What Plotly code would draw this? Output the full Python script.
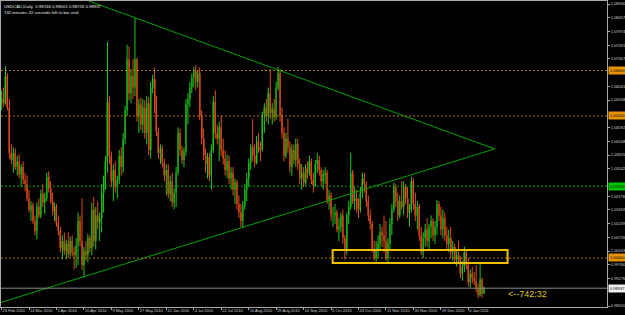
import plotly.graph_objects as go

# ---------------- data ----------------
opens = [
1.0545,1.0560,1.0545,1.0640,1.0530,1.0370,1.0345,1.0370,1.0320,1.0340,
1.0295,1.0320,1.0275,1.0260,1.0210,1.0170,1.0185,1.0130,1.0095,1.0180,
1.0150,1.0225,1.0195,1.0210,1.0285,1.0245,1.0200,1.0165,1.0180,1.0125,
1.0095,1.0035,1.0060,1.0025,1.0050,1.0015,1.0060,1.0020,1.0010,1.0045,
1.0130,1.0060,0.9975,1.0025,1.0010,1.0070,1.0035,1.0170,1.0060,1.0150,
1.0125,1.0140,1.0230,1.0270,1.0340,1.0550,1.0360,1.0270,1.0310,1.0250,
1.0275,1.0360,1.0320,1.0420,1.0520,1.0700,1.0580,1.0640,1.0600,1.0700,
1.0500,1.0540,1.0470,1.0530,1.0440,1.0545,1.0380,1.0600,1.0630,1.0530,
1.0445,1.0370,1.0385,1.0335,1.0290,1.0310,1.0225,1.0270,1.0195,1.0230,
1.0300,1.0440,1.0380,1.0345,1.0375,1.0540,1.0560,1.0600,1.0635,1.0660,
1.0620,1.0650,1.0500,1.0420,1.0360,1.0330,1.0355,1.0290,1.0380,1.0550,
1.0440,1.0420,1.0460,1.0380,1.0350,1.0310,1.0340,1.0280,1.0300,1.0240,
1.0265,1.0190,1.0160,1.0130,1.0185,1.0240,1.0280,1.0335,1.0390,1.0360,
1.0335,1.0410,1.0390,1.0380,1.0505,1.0530,1.0500,1.0580,1.0510,1.0525,
1.0495,1.0600,1.0650,1.0500,1.0440,1.0360,1.0420,1.0390,1.0320,1.0380,
1.0345,1.0400,1.0330,1.0280,1.0300,1.0265,1.0315,1.0300,1.0340,1.0275,
1.0255,1.0330,1.0345,1.0310,1.0270,1.0295,1.0300,1.0200,1.0220,1.0150,
1.0150,1.0160,1.0100,1.0110,1.0150,1.0070,1.0030,1.0150,1.0180,1.0300,
1.0200,1.0210,1.0180,1.0170,1.0230,1.0280,1.0260,1.0200,1.0150,1.0120,
1.0030,1.0000,1.0030,1.0050,1.0090,1.0080,1.0060,1.0000,1.0050,1.0120,
1.0170,1.0250,1.0200,1.0150,1.0200,1.0180,1.0250,1.0210,1.0160,1.0170,
1.0270,1.0190,1.0150,1.0180,1.0080,1.0020,1.0070,1.0100,1.0060,1.0110,
1.0130,1.0080,1.0110,1.0190,1.0150,1.0100,1.0140,1.0080,1.0050,1.0070,
1.0020,1.0040,0.9995,1.0010,0.9990,0.9945,0.9970,1.0020,0.9975,0.9915,
0.9945,0.9930,0.9920,0.9890,0.9870,0.9925,0.98746]

highs = [
1.0590,1.0600,1.0675,1.0650,1.0560,1.0400,1.0390,1.0385,1.0360,1.0365,
1.0330,1.0340,1.0300,1.0290,1.0240,1.0200,1.0195,1.0150,1.0195,1.0210,
1.0240,1.0260,1.0230,1.0300,1.0305,1.0270,1.0230,1.0195,1.0190,1.0150,
1.0110,1.0080,1.0090,1.0065,1.0090,1.0075,1.0080,1.0040,1.0070,1.0160,
1.0150,1.0210,1.0040,1.0060,1.0085,1.0080,1.0195,1.0215,1.0180,1.0200,
1.0160,1.0260,1.0290,1.0360,1.0760,1.0570,1.0375,1.0330,1.0340,1.0290,
1.0380,1.0390,1.0440,1.0535,1.0750,1.0745,1.0665,1.0700,1.0845,1.0705,
1.0560,1.0565,1.0560,1.0555,1.0570,1.0567,1.0620,1.0645,1.0670,1.0570,
1.0460,1.0400,1.0395,1.0350,1.0330,1.0330,1.0290,1.0300,1.0245,1.0320,
1.0460,1.0455,1.0395,1.0390,1.0560,1.0580,1.0620,1.0650,1.0672,1.0678,
1.0660,1.0672,1.0520,1.0455,1.0385,1.0370,1.0370,1.0400,1.0570,1.0590,
1.0470,1.0480,1.0500,1.0420,1.0380,1.0365,1.0360,1.0320,1.0320,1.0280,
1.0275,1.0220,1.0190,1.0200,1.0260,1.0300,1.0350,1.0400,1.0490,1.0400,
1.0430,1.0440,1.0410,1.0515,1.0545,1.0560,1.0600,1.0665,1.0545,1.0560,
1.0620,1.0672,1.0665,1.0530,1.0460,1.0440,1.0490,1.0410,1.0400,1.0400,
1.0420,1.0420,1.0350,1.0330,1.0320,1.0330,1.0340,1.0360,1.0350,1.0300,
1.0345,1.0370,1.0360,1.0320,1.0310,1.0320,1.0310,1.0240,1.0230,1.0180,
1.0190,1.0170,1.0140,1.0160,1.0170,1.0080,1.0160,1.0200,1.0370,1.0310,
1.0250,1.0240,1.0210,1.0250,1.0300,1.0300,1.0270,1.0220,1.0170,1.0130,
1.0060,1.0060,1.0080,1.0120,1.0110,1.0150,1.0130,1.0070,1.0140,1.0190,
1.0265,1.0260,1.0230,1.0220,1.0270,1.0270,1.0260,1.0250,1.0190,1.0285,
1.0280,1.0230,1.0200,1.0190,1.0110,1.0090,1.0120,1.0140,1.0120,1.0150,
1.0140,1.0130,1.0205,1.0200,1.0180,1.0170,1.0160,1.0110,1.0100,1.0110,
1.0060,1.0050,1.0030,1.0060,1.0005,0.9990,1.0040,1.0030,1.0000,0.9960,
0.9970,0.9950,0.9975,0.9910,0.9980,0.9930,0.99001]

lows = [
1.0520,1.0530,1.0540,1.0520,1.0350,1.0330,1.0300,1.0310,1.0290,1.0280,
1.0250,1.0260,1.0235,1.0200,1.0160,1.0130,1.0120,1.0080,1.0065,1.0140,
1.0140,1.0180,1.0155,1.0200,1.0230,1.0190,1.0150,1.0130,1.0110,1.0080,
1.0020,0.9995,1.0010,0.9995,1.0000,1.0005,1.0005,0.9960,0.9965,0.9975,
1.0040,0.9958,0.9932,0.9990,0.9985,1.0020,1.0010,1.0040,1.0030,1.0100,
1.0060,1.0090,1.0160,1.0240,1.0300,1.0330,1.0250,1.0200,1.0230,1.0210,
1.0260,1.0290,1.0300,1.0400,1.0500,1.0555,1.0545,1.0560,1.0570,1.0480,
1.0440,1.0450,1.0440,1.0420,1.0400,1.0360,1.0350,1.0580,1.0510,1.0430,
1.0350,1.0330,1.0320,1.0270,1.0220,1.0210,1.0200,1.0180,1.0172,1.0180,
1.0290,1.0360,1.0330,1.0320,1.0360,1.0470,1.0530,1.0580,1.0600,1.0590,
1.0600,1.0486,1.0400,1.0345,1.0300,1.0280,1.0270,1.0240,1.0370,1.0420,
1.0400,1.0340,1.0360,1.0330,1.0290,1.0280,1.0260,1.0240,1.0220,1.0190,
1.0170,1.0140,1.0110,1.0108,1.0170,1.0200,1.0250,1.0310,1.0340,1.0320,
1.0330,1.0370,1.0340,1.0375,1.0440,1.0480,1.0470,1.0490,1.0470,1.0480,
1.0485,1.0590,1.0480,1.0420,1.0340,1.0350,1.0370,1.0300,1.0290,1.0330,
1.0320,1.0310,1.0260,1.0240,1.0250,1.0255,1.0280,1.0290,1.0260,1.0230,
1.0250,1.0300,1.0290,1.0250,1.0240,1.0260,1.0190,1.0170,1.0130,1.0110,
1.0120,1.0090,1.0060,1.0090,1.0050,0.9995,1.0010,1.0120,1.0170,1.0190,
1.0170,1.0160,1.0140,1.0160,1.0210,1.0230,1.0180,1.0130,1.0100,1.0020,
0.9990,0.9987,1.0000,1.0030,1.0040,1.0020,0.9990,0.9985,1.0030,1.0080,
1.0160,1.0180,1.0130,1.0140,1.0170,1.0150,1.0190,1.0140,1.0110,1.0160,
1.0170,1.0130,1.0100,1.0060,1.0010,1.0000,1.0040,1.0040,1.0030,1.0070,
1.0060,1.0050,1.0080,1.0130,1.0080,1.0070,1.0060,1.0030,1.0020,1.0000,
0.9990,0.9980,0.9970,0.9985,0.9930,0.9920,0.9950,0.9960,0.9900,0.9895,
0.9910,0.9905,0.9880,0.9858,0.9865,0.9860,0.98726]

closes = [
1.0560,1.0545,1.0640,1.0530,1.0370,1.0345,1.0370,1.0320,1.0340,1.0295,
1.0320,1.0275,1.0260,1.0210,1.0170,1.0185,1.0130,1.0095,1.0180,1.0150,
1.0225,1.0195,1.0210,1.0285,1.0245,1.0200,1.0165,1.0180,1.0125,1.0095,
1.0035,1.0060,1.0025,1.0050,1.0015,1.0060,1.0020,1.0010,1.0045,1.0130,
1.0060,0.9975,1.0025,1.0010,1.0070,1.0035,1.0170,1.0060,1.0150,1.0125,
1.0140,1.0230,1.0270,1.0340,1.0550,1.0360,1.0270,1.0310,1.0250,1.0275,
1.0360,1.0320,1.0420,1.0520,1.0700,1.0580,1.0640,1.0600,1.0700,1.0500,
1.0540,1.0470,1.0530,1.0440,1.0545,1.0380,1.0600,1.0630,1.0530,1.0445,
1.0370,1.0385,1.0335,1.0290,1.0310,1.0225,1.0270,1.0195,1.0230,1.0300,
1.0440,1.0380,1.0345,1.0375,1.0540,1.0560,1.0600,1.0635,1.0660,1.0620,
1.0650,1.0500,1.0420,1.0360,1.0330,1.0355,1.0290,1.0380,1.0550,1.0440,
1.0420,1.0460,1.0380,1.0350,1.0310,1.0340,1.0280,1.0300,1.0240,1.0265,
1.0190,1.0160,1.0130,1.0185,1.0240,1.0280,1.0335,1.0390,1.0360,1.0335,
1.0410,1.0390,1.0380,1.0505,1.0530,1.0500,1.0580,1.0510,1.0525,1.0495,
1.0600,1.0650,1.0500,1.0440,1.0360,1.0420,1.0390,1.0320,1.0380,1.0345,
1.0400,1.0330,1.0280,1.0300,1.0265,1.0315,1.0300,1.0340,1.0275,1.0255,
1.0330,1.0345,1.0310,1.0270,1.0295,1.0300,1.0200,1.0220,1.0150,1.0150,
1.0160,1.0100,1.0110,1.0150,1.0070,1.0030,1.0150,1.0180,1.0300,1.0200,
1.0210,1.0180,1.0170,1.0230,1.0280,1.0260,1.0200,1.0150,1.0120,1.0030,
1.0000,1.0030,1.0050,1.0090,1.0080,1.0060,1.0000,1.0050,1.0120,1.0170,
1.0250,1.0200,1.0150,1.0200,1.0180,1.0250,1.0210,1.0160,1.0170,1.0270,
1.0190,1.0150,1.0180,1.0080,1.0020,1.0070,1.0100,1.0060,1.0110,1.0130,
1.0080,1.0110,1.0190,1.0150,1.0100,1.0140,1.0080,1.0050,1.0070,1.0020,
1.0040,0.9995,1.0010,0.9990,0.9945,0.9970,1.0020,0.9975,0.9915,0.9945,
0.9930,0.9920,0.9890,0.9870,0.9925,0.98746,0.98937]

date_labels = ["23 Feb 2010", "14 Mar 2010", "1 Apr 2010", "20 Apr 2010",
               "9 May 2010", "27 May 2010", "15 Jun 2010", "4 Jul 2010",
               "22 Jul 2010", "10 Aug 2010", "29 Aug 2010", "16 Sep 2010",
               "5 Oct 2010", "24 Oct 2010", "11 Nov 2010", "30 Nov 2010",
               "19 Dec 2010", "6 Jan 2011"]
bars_per_label = 14

price_ticks = [0.98310, 0.98793, 0.99276, 0.99760, 1.00243, 1.00726, 1.01209,
               1.01692, 1.02176, 1.02659, 1.03142, 1.03625, 1.04108, 1.04592,
               1.05075, 1.05558, 1.06041, 1.06524, 1.07007, 1.07491, 1.07974,
               1.08457, 1.08940]

upper_trend_bars = [44.4, 251.4]
upper_trend_prices = [1.0905, 1.0384]
lower_trend_bars = [-0.5, 251.4]
lower_trend_prices = [0.9843, 1.0384]

orange_levels = [1.0660, 1.0500, 1.0000]
green_levels = [1.0253]
bid_price = 0.98937

zone_bars = [168.8, 258.0]
zone_prices = [0.99824, 1.00282]

symbol = "USDCAD,Daily"
timer_minutes, timer_seconds = 742, 32
timer_bar = 257

# ---------------- styles ----------------
BG = "black"
UP_WICK, UP_BODY = "#1ec81e", "#0a640a"
DN_WICK, DN_BODY = "#e04c1a", "#8a2c0e"
TREND = "#00a400"
ORANGE = "#b87a00"
GREEN_LVL = "#00a800"
FRAME = "#a8a8a8"
TXT = "#d0d0d0"
FONT = "Liberation Sans"
Y_RANGE = [0.98275, 1.09046]

n = len(closes)
idx = list(range(n))

fig = go.Figure()

for up in (True, False):
    sel = [i for i in idx if (closes[i] >= opens[i]) == up]
    wx, wy = [], []
    for i in sel:
        wx += [i, i, None]
        wy += [lows[i], highs[i], None]
    fig.add_trace(go.Scatter(x=wx, y=wy, mode="lines",
                             line=dict(color=UP_WICK if up else DN_WICK, width=1),
                             hoverinfo="skip"))
    fig.add_trace(go.Bar(x=sel,
                         base=[min(opens[i], closes[i]) for i in sel],
                         y=[abs(closes[i] - opens[i]) for i in sel],
                         width=0.55,
                         marker=dict(color=UP_BODY if up else DN_BODY, line=dict(width=0)),
                         hoverinfo="skip"))

# trend lines
fig.add_trace(go.Scatter(x=upper_trend_bars, y=upper_trend_prices, mode="lines",
                         line=dict(color=TREND, width=1), hoverinfo="skip"))
fig.add_trace(go.Scatter(x=lower_trend_bars, y=lower_trend_prices, mode="lines",
                         line=dict(color=TREND, width=1), hoverinfo="skip"))

shapes = []
for lv in orange_levels:
    shapes.append(dict(type="line", xref="paper", x0=0, x1=1, yref="y", y0=lv, y1=lv,
                       line=dict(color=ORANGE, width=1, dash="2px,2px")))
for lv in green_levels:
    shapes.append(dict(type="line", xref="paper", x0=0, x1=1, yref="y", y0=lv, y1=lv,
                       line=dict(color=GREEN_LVL, width=1, dash="2px,2px")))
shapes.append(dict(type="line", xref="paper", x0=0, x1=1, yref="y", y0=bid_price, y1=bid_price,
                   line=dict(color="#8c8c8c", width=1)))
shapes.append(dict(type="rect", xref="x", yref="y", x0=zone_bars[0], x1=zone_bars[1],
                   y0=zone_prices[0], y1=zone_prices[1],
                   line=dict(color="#f0c000", width=2), fillcolor="rgba(0,0,0,0)"))

# price labels hidden under the highlighted level boxes (as the terminal does)
highlighted = orange_levels + green_levels + [bid_price]
px_per_price = 306 / (Y_RANGE[1] - Y_RANGE[0])
shown_ticks = [p for p in price_ticks
               if all(abs(p - h) * px_per_price > 6 for h in highlighted)]

annotations = []
def axis_box(val, bg, fg):
    annotations.append(dict(xref="paper", x=1, xanchor="left", xshift=1,
                            yref="y", y=val, yanchor="middle",
                            text=f"{val:.5f}", showarrow=False, bgcolor=bg,
                            borderpad=1, font=dict(size=4, color=fg, family=FONT)))
for lv in orange_levels:
    axis_box(lv, "#e89400", "#000000")
for lv in green_levels:
    axis_box(lv, "#00c800", "#000000")
axis_box(bid_price, "#f0f0f0", "#000000")

header = (f"{symbol}  {opens[-1]:.5f} {highs[-1]:.5f} {lows[-1]:.5f} {closes[-1]:.5f}<br>"
          f"{timer_minutes} minutes {timer_seconds} seconds left to bar end")
annotations.append(dict(xref="paper", yref="paper", x=0.002, y=0.997, xanchor="left",
                        yanchor="top", align="left", text=header, showarrow=False,
                        font=dict(size=4.3, color="#e8e8e8", family=FONT)))
annotations.append(dict(xref="x", yref="y", x=timer_bar, y=bid_price, xanchor="left",
                        yanchor="top", yshift=1.5, text=f"<--{timer_minutes}:{timer_seconds}",
                        showarrow=False, font=dict(size=9, color="#dcc814", family=FONT)))

fig.update_layout(
    width=625, height=315,
    margin=dict(l=1, r=18, t=1, b=8, autoexpand=False),
    paper_bgcolor=BG, plot_bgcolor=BG,
    showlegend=False, barmode="overlay",
    shapes=shapes, annotations=annotations,
    xaxis=dict(range=[-0.3, 308.7], showgrid=False, zeroline=False, automargin=False,
               showline=True, linecolor=FRAME, linewidth=1, mirror=True,
               tickmode="array",
               tickvals=[k * bars_per_label for k in range(len(date_labels))],
               ticktext=date_labels, ticks="outside", ticklen=2, tickcolor=FRAME,
               tickangle=0, ticklabelposition="outside right", ticklabelstandoff=-1,
               tickfont=dict(size=4, color=TXT, family=FONT)),
    yaxis=dict(range=Y_RANGE, side="right", showgrid=False, zeroline=False,
               automargin=False,
               showline=True, linecolor=FRAME, linewidth=1, mirror=True,
               tickmode="array", tickvals=shown_ticks,
               ticktext=[f"{p:.5f}" for p in shown_ticks],
               ticks="outside", ticklen=2, tickcolor=FRAME,
               tickfont=dict(size=4, color=TXT, family=FONT)),
)

fig.write_html("out.html", config={"displayModeBar": False})
